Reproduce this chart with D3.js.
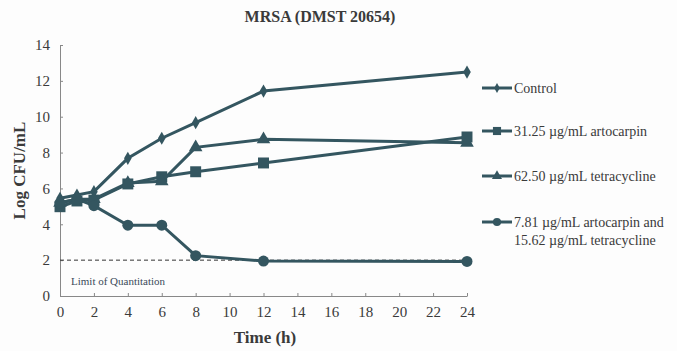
<!DOCTYPE html>
<html>
<head>
<meta charset="utf-8">
<script src="https://cdn.jsdelivr.net/npm/d3@7"></script>
<style>
  html, body { margin: 0; padding: 0; background: #fdfdfd; }
  svg { display: block; font-family: "Liberation Serif", "Times New Roman", serif; }
</style>
</head>
<body>
<svg id="chart" width="677" height="351"></svg>
<script>
// Time points (h)
const times = [0, 1, 2, 4, 6, 8, 12, 24];

// Log CFU/mL per treatment
const control      = [5.45, 5.63, 5.82, 7.68, 8.80, 9.67, 11.43, 12.49];
const artocarpin   = [4.98, 5.30, 5.35, 6.25, 6.65, 6.93, 7.42, 8.87];
const tetracycline = [5.20, 5.40, 5.40, 6.30, 6.40, 8.29, 8.74, 8.55];
const combination  = [5.20, 5.40, 5.04, 3.95, 3.95, 2.25, 1.95, 1.93];

const seriesNames = [
  ["Control"],
  ["31.25 \u00b5g/mL artocarpin"],
  ["62.50 \u00b5g/mL tetracycline"],
  ["7.81 \u00b5g/mL artocarpin and", "15.62 \u00b5g/mL tetracycline"]
];
const seriesValues = [control, artocarpin, tetracycline, combination];
const seriesSymbols = [d3.symbolDiamond, d3.symbolSquare, d3.symbolTriangle, d3.symbolCircle];
const symbolSizes = [50, 120, 80, 95];

const xTicks = d3.range(0, 25, 2);
const yTicks = d3.range(0, 15, 2);
const limitOfQuantitation = 2;

const ink = "#345660";
const textColor = "#3a3a3a";
const serif = "'Liberation Serif', 'Times New Roman', serif";

const svg = d3.select("#chart");
const x = d3.scaleLinear().domain([0, 24]).range([60, 467]);
const y = d3.scaleLinear().domain([0, 14]).range([296, 45]);

// Title
svg.append("text")
  .attr("x", 320).attr("y", 22)
  .attr("text-anchor", "middle")
  .attr("font-weight", "bold")
  .attr("font-size", 16)
  .attr("fill", textColor)
  .text("MRSA (DMST 20654)");

// Axes
const xAxis = svg.append("g")
  .attr("transform", `translate(0,${y(0)})`)
  .call(d3.axisBottom(x).tickValues(xTicks).tickSize(-3).tickPadding(10).tickSizeOuter(0));
const yAxis = svg.append("g")
  .attr("transform", `translate(${x(0)},0)`)
  .call(d3.axisLeft(y).tickValues(yTicks).tickSize(3).tickPadding(7).tickSizeOuter(0));

[xAxis, yAxis].forEach(g => {
  g.attr("font-family", serif).attr("font-size", 15);
  g.select(".domain").attr("stroke", "#888").attr("stroke-width", 1);
  g.selectAll(".tick line").attr("stroke", "#888");
  g.selectAll(".tick text")
    .attr("font-family", serif)
    .attr("font-size", 15)
    .attr("fill", textColor);
});
yAxis.selectAll(".tick line").attr("x2", 3);

// Axis titles
svg.append("text")
  .attr("x", 265).attr("y", 343)
  .attr("text-anchor", "middle")
  .attr("font-weight", "bold")
  .attr("font-size", 17)
  .attr("fill", textColor)
  .text("Time (h)");

svg.append("text")
  .attr("transform", `translate(25,${y(7)}) rotate(-90)`)
  .attr("text-anchor", "middle")
  .attr("font-weight", "bold")
  .attr("font-size", 17)
  .attr("fill", textColor)
  .text("Log CFU/mL");

// Limit of quantitation
svg.append("line")
  .attr("x1", x(0)).attr("x2", x(24))
  .attr("y1", y(limitOfQuantitation)).attr("y2", y(limitOfQuantitation))
  .attr("stroke", "#333")
  .attr("stroke-width", 1)
  .attr("stroke-dasharray", "4,3");

svg.append("text")
  .attr("x", 71).attr("y", 285)
  .attr("font-size", 11)
  .attr("fill", "#3b4a5a")
  .text("Limit of Quantitation");

// Series lines and markers
const line = d3.line().x((d, i) => x(times[i])).y(d => y(d));

seriesValues.forEach((vals, k) => {
  svg.append("path")
    .datum(vals)
    .attr("d", line)
    .attr("fill", "none")
    .attr("stroke", ink)
    .attr("stroke-width", 3);
});

seriesValues.forEach((vals, k) => {
  svg.append("g").selectAll("path")
    .data(vals)
    .join("path")
    .attr("transform", (d, i) => `translate(${x(times[i])},${y(d)})`)
    .attr("d", d3.symbol().type(seriesSymbols[k]).size(symbolSizes[k]))
    .attr("fill", ink);
});

// Legend
const legendY = [88, 131, 176, 222];
seriesNames.forEach((lines, k) => {
  const g = svg.append("g").attr("transform", `translate(482,${legendY[k]})`);
  g.append("line")
    .attr("x1", 0).attr("x2", 30)
    .attr("stroke", ink).attr("stroke-width", 3);
  g.append("path")
    .attr("transform", "translate(15,0)")
    .attr("d", d3.symbol().type(seriesSymbols[k]).size(symbolSizes[k] * 0.55))
    .attr("fill", ink);
  lines.forEach((t, j) => {
    g.append("text")
      .attr("x", 32).attr("y", 5 + j * 18)
      .attr("font-size", 14)
      .attr("fill", textColor)
      .text(t);
  });
});
</script>
</body>
</html>
